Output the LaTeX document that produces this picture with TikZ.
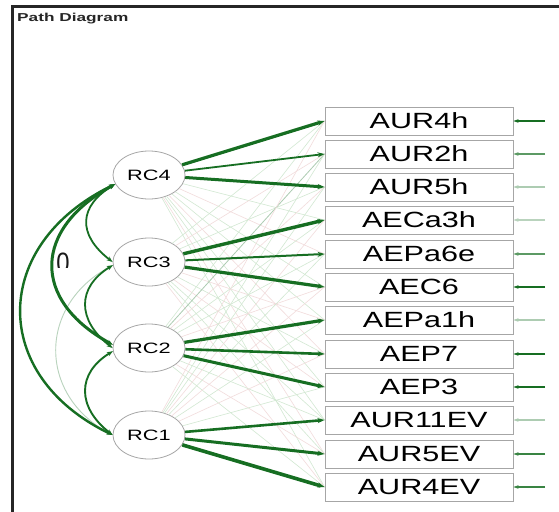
\documentclass[tikz,border=0pt]{standalone}
\usepackage{fontspec}
\setmainfont{Liberation Sans}
\usepackage{graphicx}
\usetikzlibrary{arrows.meta,shapes.geometric}
\definecolor{dg}{RGB}{22,110,34}
\definecolor{lg}{RGB}{210,232,210}
\definecolor{lr}{RGB}{242,220,220}
\newcommand{\wide}[2][1.39]{\scalebox{#1}[1]{#2}}
\begin{document}
\begin{tikzpicture}[x=1pt,y=-1pt,
  obs/.style={draw=gray!70, line width=0.9pt, fill=white, minimum width=188pt, minimum height=28pt, inner sep=0pt, font=\fontsize{22}{22}\selectfont},
  lat/.style={draw=gray!70, line width=0.8pt, fill=white, ellipse, minimum width=72pt, minimum height=48pt, inner sep=0pt, font=\fontsize{15}{15}\selectfont},
  load/.style={draw=dg, -{Stealth[length=7pt,width=5pt]}},
  faint/.style={draw=lg, line width=0.6pt},
  fainr/.style={draw=lr, line width=0.6pt},
  resid/.style={-{Stealth[length=5pt,width=3.5pt]}, line width=1.1pt},
  cov/.style={draw=dg, {Stealth[length=6pt,width=4.5pt]}-{Stealth[length=6pt,width=4.5pt]}}]
\useasboundingbox (0,0) rectangle (559,511);
\fill[white] (0,0) rectangle (559,511);
% frame
\draw[line width=2.2pt, draw=black!85] (12.5,530) -- (12.5,6.5) -- (580,6.5);
\node[anchor=base west, inner sep=0pt, font=\fontsize{11.5}{11.5}\selectfont\bfseries, text=black!85] (title) at (17,21.5) {\wide[1.5]{Path Diagram}};
% latent nodes
\node[lat] (RC4) at (149,175) {\wide[1.45]{RC4}};
\node[lat] (RC3) at (149,262) {\wide[1.45]{RC3}};
\node[lat] (RC2) at (149,348) {\wide[1.45]{RC2}};
\node[lat] (RC1) at (149,435) {\wide[1.45]{RC1}};
% observed nodes
\foreach \n/\t/\y in {b1/AUR4h/121, b2/AUR2h/154, b3/AUR5h/187, b4/AECa3h/220, b5/AEPa6e/254, b6/AEC6/287, b7/AEPa1h/320, b8/AEP7/354, b9/AEP3/387, b10/AUR11EV/420, b11/AUR5EV/454, b12/AUR4EV/487}{
  \node[obs] (\n) at (419,\y) {\wide{\t}};
  \coordinate (r\n) at (545,\y);
}
% faint cross loadings
\foreach \b in {b4,b6,b7,b9,b10,b12}{\draw[faint] (RC4) -- (\b.west);}
\foreach \b in {b5,b8,b11}{\draw[fainr] (RC4) -- (\b.west);}
\foreach \b in {b1,b3,b8,b10,b11}{\draw[faint] (RC3) -- (\b.west);}
\foreach \b in {b2,b7,b9,b12}{\draw[fainr] (RC3) -- (\b.west);}
\foreach \b in {b1,b4,b5,b10,b12}{\draw[faint] (RC2) -- (\b.west);}
\foreach \b in {b3,b6,b11}{\draw[fainr] (RC2) -- (\b.west);}
\draw[draw=dg!35, line width=0.8pt] (RC2) -- (b2.west);
\foreach \b in {b2,b3,b5,b7,b9}{\draw[faint] (RC1) -- (\b.west);}
\foreach \b in {b1,b4,b6,b8}{\draw[fainr] (RC1) -- (\b.west);}
% main loadings
\draw[load, line width=3.2pt] (RC4) -- (b1.west);
\draw[load, line width=1.8pt] (RC4) -- (b2.west);
\draw[load, line width=3.0pt] (RC4) -- (b3.west);
\draw[load, line width=3.4pt] (RC3) -- (b4.west);
\draw[load, line width=2.0pt] (RC3) -- (b5.west);
\draw[load, line width=3.2pt] (RC3) -- (b6.west);
\draw[load, line width=3.2pt] (RC2) -- (b7.west);
\draw[load, line width=2.6pt] (RC2) -- (b8.west);
\draw[load, line width=3.0pt] (RC2) -- (b9.west);
\draw[load, line width=2.6pt] (RC1) -- (b10.west);
\draw[load, line width=3.0pt] (RC1) -- (b11.west);
\draw[load, line width=3.6pt] (RC1) -- (b12.west);
% residuals
\draw[resid, dg] (rb1) -- (b1.east);
\draw[resid, dg!70] (rb2) -- (b2.east);
\draw[resid, dg!35] (rb3) -- (b3.east);
\draw[resid, dg!30] (rb4) -- (b4.east);
\draw[resid, dg!70] (rb5) -- (b5.east);
\draw[resid, dg] (rb6) -- (b6.east);
\draw[resid, dg!35] (rb7) -- (b7.east);
\draw[resid, dg] (rb8) -- (b8.east);
\draw[resid, dg] (rb9) -- (b9.east);
\draw[resid, dg!35] (rb10) -- (b10.east);
\draw[resid, dg!85] (rb11) -- (b11.east);
\draw[resid, dg!85] (rb12) -- (b12.east);
% factor covariances
\draw[cov, draw=dg!30, line width=0.9pt] (RC3.185) .. controls +(-75,40) and +(-75,-40) .. (RC1.180);
\draw[cov, line width=1.8pt] (RC4.195) .. controls +(-36,22) and +(-36,-28) .. (RC3.180);
\draw[cov, line width=1.8pt] (RC3.185) .. controls +(-36,22) and +(-36,-28) .. (RC2.180);
\draw[cov, line width=1.9pt] (RC2.185) .. controls +(-36,22) and +(-36,-28) .. (RC1.180);
\draw[cov, line width=3.0pt] (RC4.195) .. controls +(-82,45) and +(-82,-45) .. (RC2.175);
\draw[cov, line width=2.4pt] (RC4.195) .. controls +(-124,60) and +(-124,-60) .. (RC1.180);
% partly hidden label
\begin{scope}
\clip (45,245) rectangle (80,267.5);
\node[inner sep=0pt, anchor=north, font=\fontsize{28}{28}\selectfont, text=black!90] (zero) at (63,252.5) {\scalebox{0.85}[1]{0}};
\end{scope}
\end{tikzpicture}
\end{document}
